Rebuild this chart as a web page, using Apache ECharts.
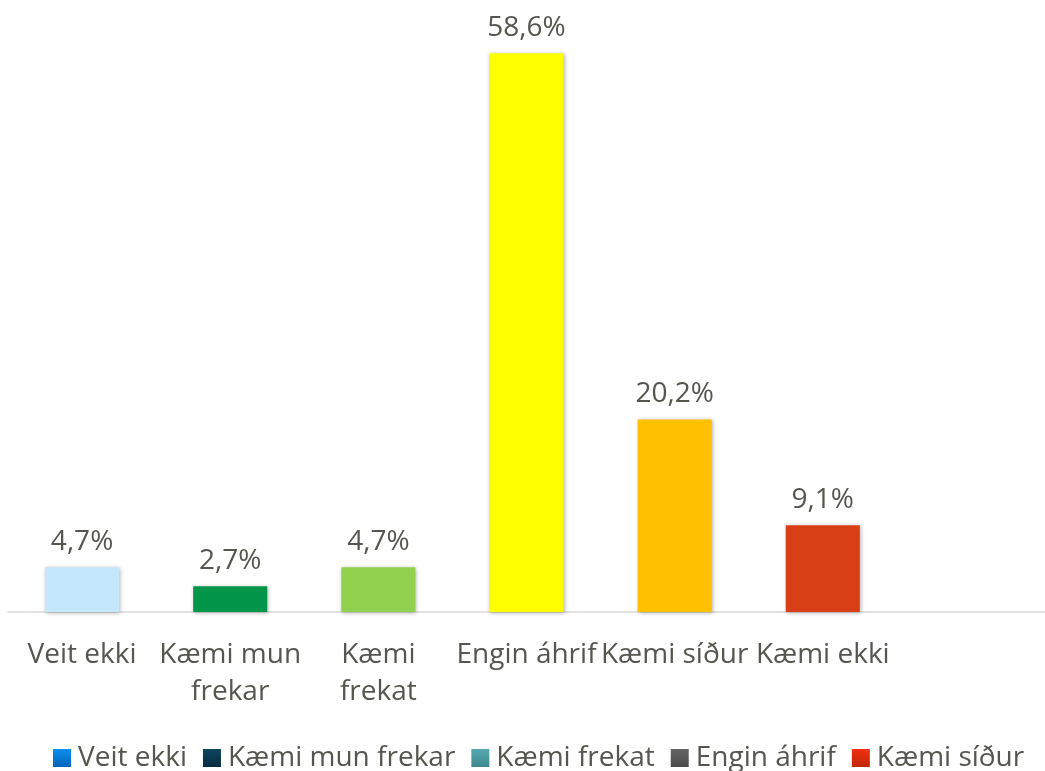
<!DOCTYPE html>
<html>
<head>
<meta charset="utf-8">
<script src="https://cdn.jsdelivr.net/npm/echarts@6/dist/echarts.min.js"></script>
<style>
  html, body { margin: 0; padding: 0; background: #ffffff; }
  #chart { width: 1045px; height: 771px; }
</style>
</head>
<body>
<div id="chart"></div>
<script>
// gögn (lesin af myndinni)
const categories = ['Veit ekki', 'Kæmi mun frekar', 'Kæmi frekat', 'Engin áhrif', 'Kæmi síður', 'Kæmi ekki', ''];
const tickLabels = ['Veit ekki', 'Kæmi mun\nfrekar', 'Kæmi\nfrekat', 'Engin áhrif', 'Kæmi síður', 'Kæmi ekki', ''];
const values = [4.7, 2.7, 4.7, 58.6, 20.2, 9.1, null];
const barColors = ['#c5e7fb', '#03964a', '#92d050', '#ffff00', '#ffc000', '#d83f17', '#ffffff'];

// legend (eins og í upprunalega skjalinu, passar ekki við súlurnar)
const legendNames = ['Veit ekki', 'Kæmi mun frekar', 'Kæmi frekat', 'Engin áhrif', 'Kæmi síður'];
const legendColors = [
    ['#0a8fee', '#0565b8'],
    ['#0d4560', '#062c40'],
    ['#58aab0', '#3f8890'],
    ['#666666', '#4a4a4a'],
    ['#f03010', '#c02808']
];

const textColor = '#55574f';
const font = 'Open Sans';

const chart = echarts.init(document.getElementById('chart'));

const legendSeries = legendNames.map((name, i) => ({
    name: name,
    type: 'line',
    data: [],
    itemStyle: {
        color: new echarts.graphic.LinearGradient(0, 0, 0, 1, [
            { offset: 0, color: legendColors[i][0] },
            { offset: 1, color: legendColors[i][1] }
        ])
    }
}));

const option = {
    animation: false,
    grid: {
        left: 8,
        width: 1047,
        top: 40,
        bottom: 159,
        containLabel: false
    },
    legend: {
        data: legendNames,
        left: 48,
        top: 739,
        icon: 'rect',
        itemWidth: 18,
        itemHeight: 18,
        itemGap: 16,
        selectedMode: false,
        textStyle: {
            color: textColor,
            fontFamily: font,
            fontSize: 28,
            padding: [0, 0, 0, 2]
        }
    },
    xAxis: {
        type: 'category',
        data: categories,
        axisLine: { lineStyle: { color: '#d9d9d9', width: 1.5 } },
        axisTick: { show: false },
        axisLabel: {
            interval: 0,
            margin: 25,
            color: textColor,
            fontFamily: font,
            fontSize: 28,
            lineHeight: 37,
            formatter: (v, i) => tickLabels[i]
        }
    },
    yAxis: {
        type: 'value',
        min: 0,
        max: 60,
        show: false,
        splitLine: { show: false }
    },
    series: [{
        name: 'gildi',
        type: 'bar',
        barWidth: '50%',
        data: values.map((v, i) => ({
            value: v,
            itemStyle: {
                color: barColors[i],
                shadowColor: 'rgba(0,0,0,0.3)',
                shadowBlur: 4,
                shadowOffsetX: 1,
                shadowOffsetY: 1
            }
        })),
        label: {
            show: true,
            position: 'top',
            distance: 11,
            color: textColor,
            fontFamily: font,
            fontSize: 28,
            formatter: p => p.value == null ? '' : p.value.toFixed(1).replace('.', ',') + '%'
        }
    }].concat(legendSeries)
};

chart.setOption(option);
</script>
</body>
</html>
